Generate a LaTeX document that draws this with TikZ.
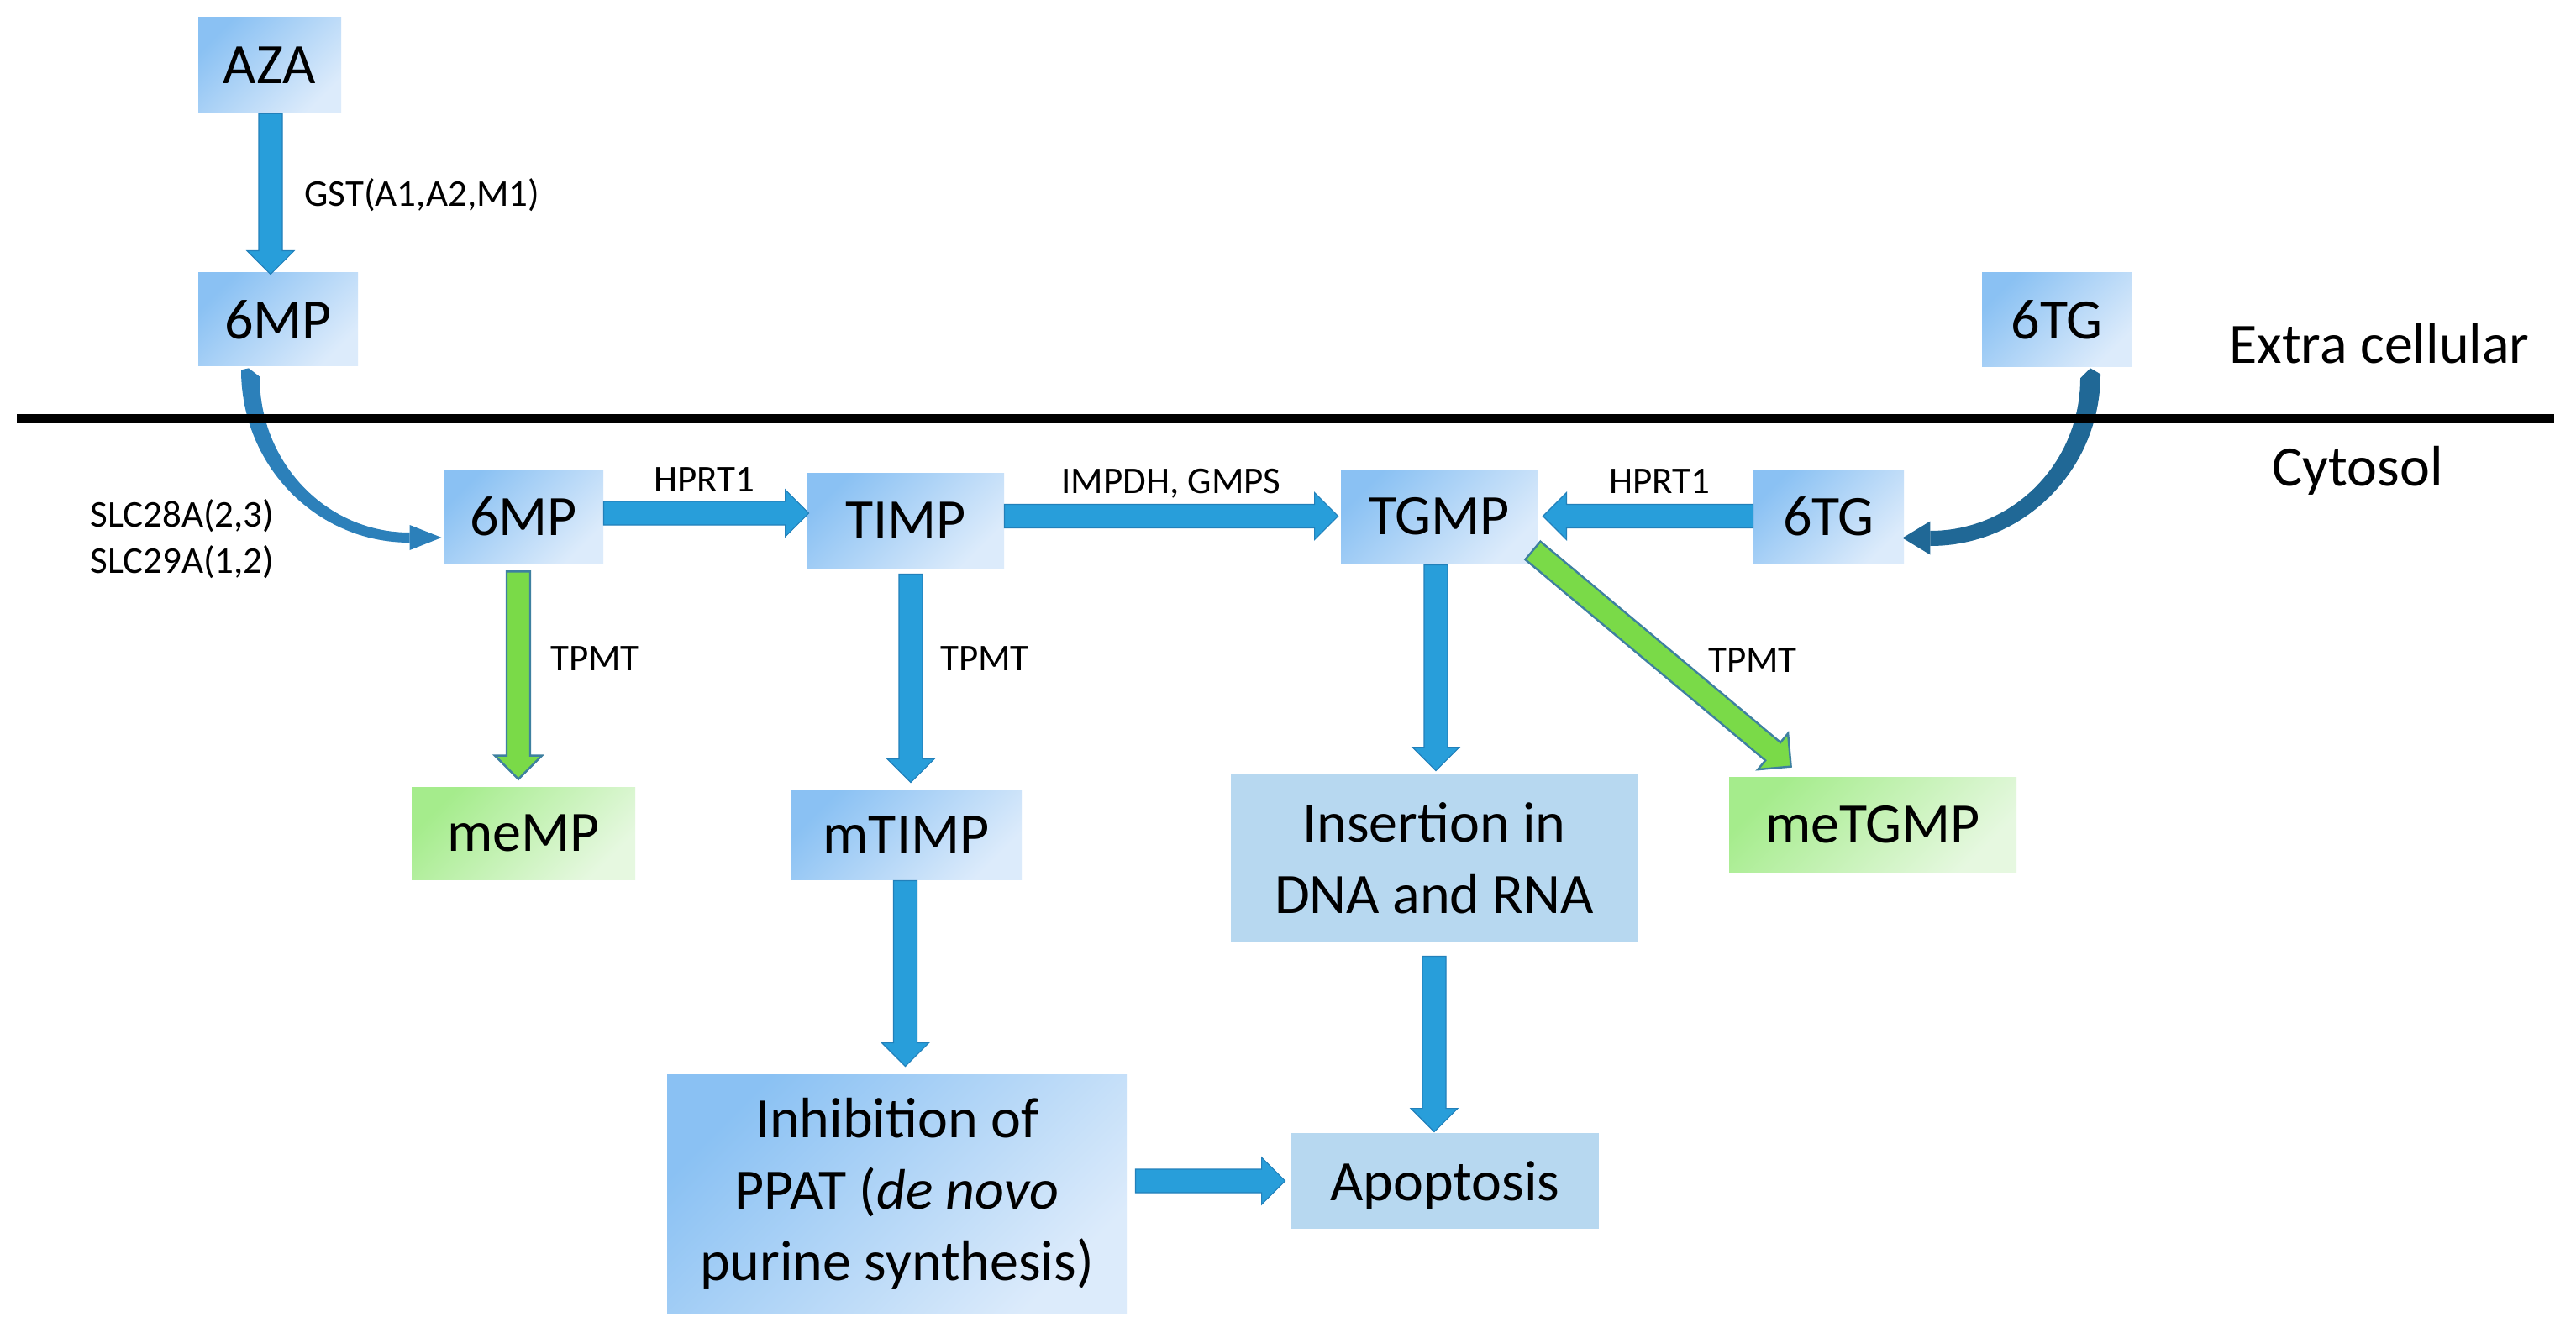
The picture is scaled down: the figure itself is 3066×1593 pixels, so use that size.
\documentclass[tikz,border=0pt]{standalone}
\usepackage{fontspec}
\setmainfont{Carlito}
\usetikzlibrary{calc,arrows.meta}
\definecolor{boxA}{RGB}{138,193,243}
\definecolor{boxB}{RGB}{220,235,251}
\definecolor{flatbox}{RGB}{183,216,240}
\definecolor{grnA}{RGB}{165,236,140}
\definecolor{grnB}{RGB}{230,248,224}
\definecolor{arrblue}{RGB}{40,158,218}
\definecolor{arrblueD}{RGB}{34,128,186}
\definecolor{arrgreen}{RGB}{122,218,72}
\definecolor{arrgreenD}{RGB}{62,128,160}
\definecolor{curveA}{RGB}{44,128,186}
\definecolor{curveB}{RGB}{32,104,150}
\newcommand\bigf{\fontsize{34}{42.5}\selectfont}
\newcommand\smallf{\fontsize{22.5}{27.5}\selectfont}
\newcommand\barrow[3]{%
  \path (#2) coordinate (bas) (#3) coordinate (bae);
  \pgfpointdiff{\pgfpointanchor{bas}{center}}{\pgfpointanchor{bae}{center}}%
  \pgfgetlastxy{\bax}{\bay}%
  \pgfmathsetmacro\baang{atan2(\bay,\bax)}%
  \pgfmathsetmacro\balen{veclen(\bax,\bay)}%
  \begin{scope}[shift={(bas)},rotate=\baang]
    \path[#1] (0pt,-7pt) -- (\balen pt-14pt,-7pt) -- (\balen pt-14pt,-14pt) -- (\balen pt,0pt) -- (\balen pt-14pt,14pt) -- (\balen pt-14pt,7pt) -- (0pt,7pt) -- cycle;
  \end{scope}}
\tikzset{
 box/.style={rectangle, inner sep=0pt, font=\bigf, align=center, top color=boxA, bottom color=boxB, shading angle=45},
 flat/.style={rectangle, inner sep=0pt, font=\bigf, align=center, fill=flatbox},
 gbox/.style={rectangle, inner sep=0pt, font=\bigf, top color=grnA, bottom color=grnB, shading angle=45},
 lbl/.style={font=\smallf, inner sep=0pt},
 bluearrow/.style={fill=arrblue, draw=arrblueD, line width=0.6pt},
 greenarrow/.style={fill=arrgreen, draw=arrgreenD, line width=1.2pt},
}
\begin{document}
\begin{tikzpicture}[x=0.5pt,y=-0.5pt]
\fill[white] (0,0) rectangle (3066,1593);
\useasboundingbox (0,0) rectangle (3066,1593);
% boxes
\node[box, minimum width=85pt, minimum height=57pt] (aza) at (321,78) {AZA};
\node[box, minimum width=95pt, minimum height=55.5pt] (mpx) at (331,380.5) {6MP};
\node[box, minimum width=89pt, minimum height=56pt] (tgx) at (2448,381) {6TG};
\node[box, minimum width=95pt, minimum height=55pt] (mpc) at (623,615) {6MP};
\node[box, minimum width=117pt, minimum height=56.5pt] (timp) at (1078,619.5) {TIMP};
\node[box, minimum width=117pt, minimum height=55.5pt] (tgmp) at (1713,614.5) {TGMP};
\node[box, minimum width=89.5pt, minimum height=55.5pt] (tgc) at (2176.5,614.5) {6TG};
\node[gbox, minimum width=133pt, minimum height=55pt] (memp) at (623,992) {meMP};
\node[box, minimum width=137.5pt, minimum height=53pt] (mtimp) at (1078.5,994) {mTIMP};
\node[flat, minimum width=242pt, minimum height=99.5pt] (ins) at (1707,1021.5) {Insertion in\\DNA and RNA};
\node[gbox, minimum width=171pt, minimum height=56.5pt] (metgmp) at (2229,981.5) {meTGMP};
\node[box, minimum width=273.5pt, minimum height=142pt] (inh) at (1067.5,1421) {Inhibition of\\PPAT (\textit{de novo}\\purine synthesis)};
\node[flat, minimum width=183pt, minimum height=57pt, text depth=0pt] (apo) at (1720,1406) {Apoptosis};
% block arrows
\barrow{bluearrow}{$(aza.south)+(1,0)$}{$(aza.south |- mpx.north)+(1,2)$}
\barrow{bluearrow}{$(mpc.east)+(0,-4)$}{$(mpc.east -| timp.west)+(2,-4)$}
\barrow{bluearrow}{tgmp.west -| timp.east}{$(tgmp.west)+(-3,0)$}
\barrow{bluearrow}{tgc.west}{$(tgmp.east)+(6,0)$}
\barrow{greenarrow}{$(mpc.south)+(-6,10)$}{$(memp.north)+(-6,-9)$}
\barrow{bluearrow}{$(timp.south)+(6,7)$}{$(mtimp.north)+(5.5,-9)$}
\barrow{bluearrow}{$(tgmp.south)+(-4,2)$}{$(tgmp.south |- ins.north)+(-4,-4)$}
\barrow{greenarrow}{$(tgmp.south east)+(-6,-15)$}{$(metgmp.north west)+(74,-12)$}
\barrow{bluearrow}{$(mtimp.south)+(-1,1)$}{$(mtimp.south |- inh.north)+(-1,-9)$}
\barrow{bluearrow}{$(ins.south)+(0,17)$}{$(ins.south |- apo.north)+(0,-1)$}
\barrow{bluearrow}{$(inh.east |- apo.west)+(10,0)$}{$(apo.west)+(-7,0)$}
% transport curves (tapered curved arrows)
\fill[curveA] ($(mpx.south)+(-44,4)$) .. controls +(0,114) and +(-111,0) .. ($(mpc.west)+(-40,31)$)
  -- ($(mpc.west)+(-40,19)$) .. controls +(-99,0) and +(0,103) .. ($(mpx.south)+(-22,12)$)
  -- ($(mpx.south)+(-35,2)$) -- cycle;
\fill[curveA] ($(mpc.west)+(-40,10)$) -- ($(mpc.west)+(-2,25)$) -- ($(mpc.west)+(-40,40)$) -- cycle;
\fill[curveB] ($(tgx.south)+(52,8)$) .. controls +(0,113) and +(112,0) .. ($(tgc.east)+(31,35.5)$)
  -- ($(tgc.east)+(31,17.5)$) .. controls +(99,0) and +(0,100) .. ($(tgx.south)+(28,13)$)
  -- ($(tgx.south)+(40,1)$) -- cycle;
\fill[curveB] ($(tgc.east)+(31,6)$) -- ($(tgc.east)+(-2,26)$) -- ($(tgc.east)+(31,46)$) -- cycle;
% membrane
\draw[line width=5.5pt] (20,499) -- (3040,499);
% labels
\node[lbl, anchor=base west] (gst) at (362,246) {GST(A1,A2,M1)};
\node[lbl, anchor=base west] (slc1) at (107,627) {SLC28A(2,3)};
\node[lbl, anchor=base west] (slc2) at (107,682) {SLC29A(1,2)};
\node[lbl, anchor=base] (hprta) at (838,585) {HPRT1};
\node[lbl, anchor=base] (impdh) at (1394,588) {IMPDH, GMPS};
\node[lbl, anchor=base] (hprtb) at (1975,588) {HPRT1};
\node[lbl, anchor=base] (tpmta) at (708,798) {TPMT};
\node[lbl, anchor=base] (tpmtb) at (1172,798) {TPMT};
\node[lbl, anchor=base] (tpmtc) at (2086,800) {TPMT};
\node[font=\bigf, inner sep=0pt, anchor=base west] (extra) at (2653,433) {Extra cellular};
\node[font=\bigf, inner sep=0pt, anchor=base west] (cyto) at (2704,578) {Cytosol};
\end{tikzpicture}
\end{document}
